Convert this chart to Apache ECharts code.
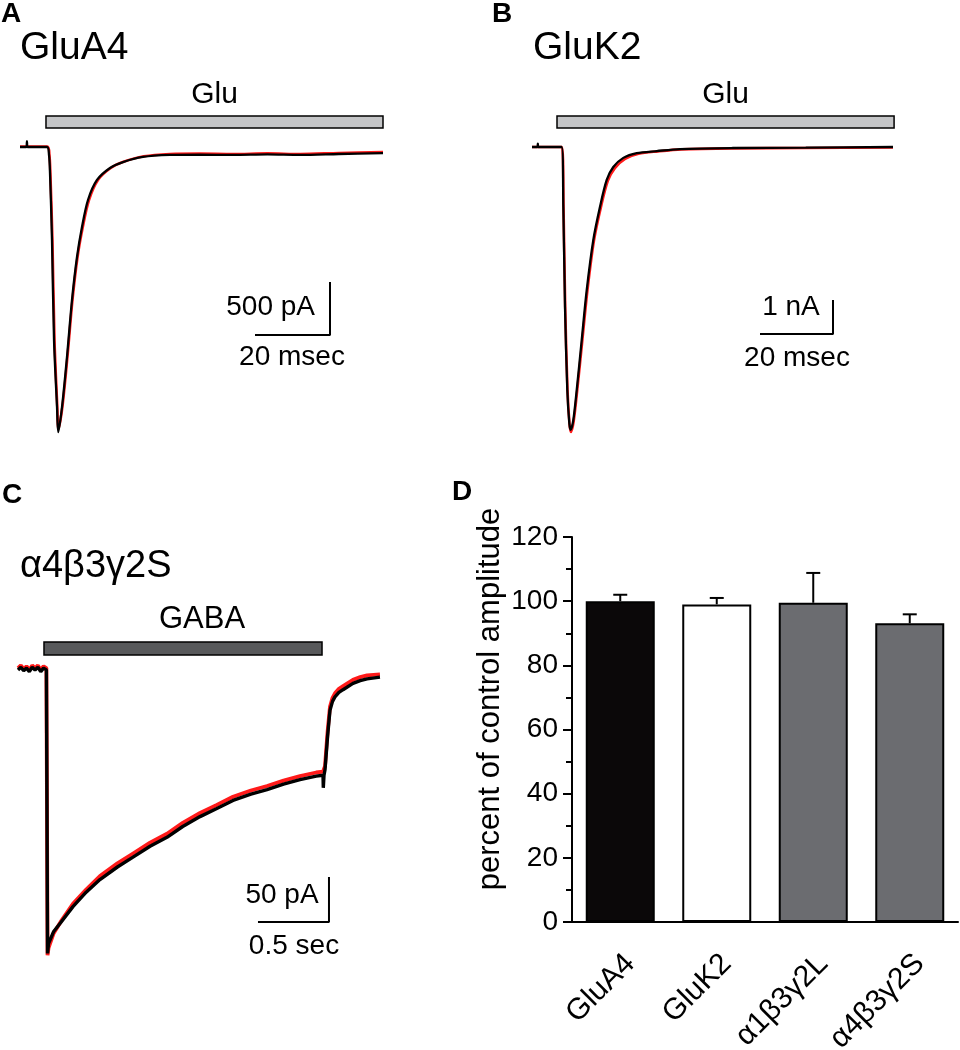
<!DOCTYPE html>
<html><head><meta charset="utf-8">
<script src="https://cdn.jsdelivr.net/npm/echarts@6/dist/echarts.min.js"></script>
<style>html,body{margin:0;padding:0;background:#fff}#c{width:960px;height:1050px}</style>
</head><body><div id="c"></div>
<script>
// ---------- DATA ----------
// Panel A (GluA4): time (ms), current (pA)
const traceA_black = [[0,0],[1.7,0],[1.85,55],[2.0,0],[7.2,0],[7.73,-75],[8.0,-245],[8.53,-877],[9.07,-1821],[9.87,-2453],[10.2,-2689],[11.2,-2453],[12.53,-1981],[13.87,-1443],[15.2,-1038],[16.53,-755],[18.13,-500],[20.53,-311],[24.0,-198],[27.47,-142],[32.8,-94],[40.0,-75],[48,-72],[56.8,-75],[66,-70],[74.7,-75],[85,-66],[96.8,-57]];
const traceA_red = [[0,5],[7.3,5],[7.85,-75],[8.1,-245],[8.65,-877],[9.2,-1821],[9.95,-2453],[10.25,-2660],[11.3,-2453],[12.65,-1981],[14.0,-1443],[15.35,-1038],[16.75,-755],[18.4,-500],[20.8,-311],[24.2,-198],[27.6,-140],[33,-88],[40,-66],[48,-62],[56.8,-66],[66,-60],[74.7,-66],[85,-56],[96.8,-48]];
const gluA_time = [6.93, 96.8];      // application period (ms)
const gluA_level = [179, 292];       // bar drawn above trace (pA)
const scaleA = [[62.67,-1774],[82.67,-1774],[82.67,-1274]]; // 20 ms, 500 pA

// Panel B (GluK2): time (ms), current (nA)
const traceB_black = [[0,0],[1.5,0],[1.6,0.1],[1.7,0],[8.14,0],[8.58,-1.76],[9.04,-4.71],[9.67,-7.15],[10.22,-8.12],[10.6,-8.32],[11.32,-8.03],[12.25,-7.15],[13.62,-5.68],[14.99,-4.21],[16.79,-2.74],[18.63,-1.76],[20.47,-0.97],[22.27,-0.59],[25.01,-0.32],[28.68,-0.18],[34.16,-0.12],[40.55,-0.06],[55.07,-0.03],[75,-0.02],[98.9,0]];
const traceB_red = [[0,0],[8.2,0],[8.64,-1.76],[9.1,-4.71],[9.73,-7.15],[10.28,-8.15],[10.66,-8.38],[11.4,-8.08],[12.4,-7.15],[13.8,-5.68],[15.2,-4.21],[17.0,-2.74],[18.9,-1.76],[20.8,-0.99],[22.7,-0.62],[25.5,-0.35],[29.2,-0.2],[34.5,-0.13],[41,-0.07],[55,-0.04],[75,-0.03],[98.9,-0.01]];
const gluB_time = [6.85, 99.2];
const gluB_level = [0.56, 0.91];
const scaleB = [[62.47,-5.5],[82.47,-5.5],[82.47,-4.5]]; // 20 ms, 1 nA

// Panel C (α4β3γ2S): time (ms), current (pA)
const traceC_black = [[0,-1],[20,2],[40,-2],[60,1],[80,-3],[100,2],[120,-1],[140,2],[160,-3],[180,1],[200,-1],[204,-150],[208,-316],[215,-305],[250,-292],[300,-282],[387,-264],[480,-248],[577,-234],[700,-220],[810,-209],[930,-197],[1049,-187],[1160,-175],[1282,-164],[1400,-155],[1514,-146],[1640,-139],[1754,-134],[1870,-128],[1986,-123],[2100,-119],[2148,-118],[2150,-132],[2155,-118],[2162,-112],[2180,-75],[2197,-46],[2215,-36],[2232,-31],[2260,-26],[2289,-23],[2359,-16],[2410,-13],[2458,-11],[2549,-9]];
const traceC_red = [[0,1],[20,4],[40,0],[60,3],[80,-1],[100,4],[120,1],[140,4],[160,-1],[180,3],[200,1],[204,-150],[208,-318],[215,-310],[250,-294],[300,-281],[387,-261],[480,-245],[577,-230],[700,-216],[810,-205],[930,-193],[1049,-183],[1160,-171],[1282,-160],[1400,-151],[1514,-142],[1640,-135],[1754,-130],[1870,-124],[1986,-119],[2100,-115],[2148,-114],[2155,-114],[2162,-108],[2180,-70],[2197,-42],[2215,-32],[2232,-27],[2260,-22],[2289,-19],[2359,-12],[2410,-9],[2458,-7],[2549,-6]];
const gabaC_time = [183, 2141];
const gabaC_level = [15.6, 30];
const scaleC = [[1690,-281],[2190,-281],[2190,-231]]; // 0.5 s, 50 pA

// Panel D
const categories = ['GluA4','GluK2','α1β3γ2L','α4β3γ2S'];
const meanPct = [100, 99, 99.5, 93.1];
const semPct = [2, 2, 9.3, 2.8];
const yTicksD = [0, 20, 40, 60, 80, 100, 120];

// ---------- STYLE ----------
const FONT = "'Liberation Sans', Arial, Helvetica, sans-serif";
const barFill = ['#0b0809','#ffffff','#6b6c70','#6b6c70'];

function traceSeries(idx, data, color, width, smooth){
  return {type:'line', xAxisIndex:idx, yAxisIndex:idx, data:data, symbol:'none', smooth:smooth,
    lineStyle:{color:color, width:width}, silent:true, animation:false, z:color==='#000000'?4:3};
}
function applBar(idx, time, level, name, fill, fs, dx){
  return {type:'line', xAxisIndex:idx, yAxisIndex:idx, data:[], symbol:'none', animation:false,
    markArea:{silent:true, itemStyle:{color:fill, borderColor:'#000', borderWidth:1.5},
      label:{show:true, position:'top', distance:6, offset:[dx,0], color:'#000', fontSize:fs, fontFamily:FONT},
      data:[[{name:name, coord:[time[0], level[1]]},{coord:[time[1], level[0]]}]]}};
}
function scaleSeries(idx, data){
  return {type:'line', xAxisIndex:idx, yAxisIndex:idx, data:data, symbol:'none',
    lineStyle:{color:'#000', width:2}, animation:false, silent:true};
}

const chart = echarts.init(document.getElementById('c'), null, {renderer:'canvas'});
const hiddenAxis = (min,max)=>({type:'value', min:min, max:max, show:false});

const option = {
  backgroundColor:'#fff',
  animation:false,
  grid:[
    {left:20, top:115.2, width:375, height:328.6, outerBoundsMode:'none'},
    {left:532, top:113, width:365, height:326.4, outerBoundsMode:'none'},
    {left:18, top:633, width:369.2, height:324, outerBoundsMode:'none'},
    {left:572, top:537, width:386, height:385, outerBoundsMode:'none'}
  ],
  xAxis:[
    Object.assign(hiddenAxis(0,100),{gridIndex:0}),
    Object.assign(hiddenAxis(0,100),{gridIndex:1}),
    Object.assign(hiddenAxis(0,2600),{gridIndex:2}),
    {type:'category', gridIndex:3, data:categories,
      axisLine:{lineStyle:{color:'#000', width:2}},
      axisTick:{alignWithLabel:true, length:8, lineStyle:{color:'#000', width:2}},
      axisLabel:{show:false}}
  ],
  yAxis:[
    Object.assign(hiddenAxis(-2800,300),{gridIndex:0}),
    Object.assign(hiddenAxis(-8.6,1),{gridIndex:1}),
    Object.assign(hiddenAxis(-320,40),{gridIndex:2}),
    {type:'value', gridIndex:3, min:yTicksD[0], max:yTicksD[yTicksD.length-1], interval:20,
      axisLine:{show:true, lineStyle:{color:'#000', width:2}},
      axisTick:{show:true, length:9, lineStyle:{color:'#000', width:2}},
      minorTick:{show:true, splitNumber:2, length:6, lineStyle:{color:'#000', width:2}},
      splitLine:{show:false},
      axisLabel:{color:'#000', fontSize:28, fontFamily:FONT, margin:14}}
  ],
  series:[
    applBar(0, gluA_time, gluA_level, 'Glu', '#c4c5c7', 30, 0),
    traceSeries(0, traceA_red, '#ff1a1a', 2.6, 0.3),
    traceSeries(0, traceA_black, '#000000', 2.3, 0.3),
    scaleSeries(0, scaleA),

    applBar(1, gluB_time, gluB_level, 'Glu', '#c4c5c7', 30, 0),
    traceSeries(1, traceB_red, '#ff1a1a', 2.6, 0.3),
    traceSeries(1, traceB_black, '#000000', 2.3, 0.3),
    scaleSeries(1, scaleB),

    applBar(2, gabaC_time, gabaC_level, 'GABA', '#58595b', 31, 19),
    traceSeries(2, traceC_red, '#ff1a1a', 3.8, false),
    traceSeries(2, traceC_black, '#000000', 3.4, false),
    scaleSeries(2, scaleC),

    {type:'bar', xAxisIndex:3, yAxisIndex:3, barWidth:69, animation:false,
      data: meanPct.map((v,i)=>({value:v, itemStyle:{color:barFill[i], borderColor:'#000', borderWidth:2}}))},
    {type:'custom', xAxisIndex:3, yAxisIndex:3, animation:false, z:5,
      data: meanPct.map((v,i)=>[i, v, v+semPct[i]]),
      renderItem:function(params, api){
        const p0 = api.coord([api.value(0), api.value(1)]);
        const p1 = api.coord([api.value(0), api.value(2)]);
        return {type:'group', children:[
          {type:'line', shape:{x1:p0[0], y1:p0[1], x2:p1[0], y2:p1[1]}, style:{stroke:'#000', lineWidth:2}},
          {type:'line', shape:{x1:p1[0]-7, y1:p1[1], x2:p1[0]+7, y2:p1[1]}, style:{stroke:'#000', lineWidth:2}}
        ]};
      }},
    {type:'custom', xAxisIndex:3, yAxisIndex:3, animation:false, clip:false,
      data: categories.map((c,i)=>[i, 0]),
      renderItem:function(params, api){
        const i = api.value(0);
        const p = api.coord([i, 0]);
        return {type:'text', x:p[0]+10, y:p[1]+37, rotation:Math.PI/4,
          style:{text:categories[i], align:'right', verticalAlign:'middle', fill:'#000', font:'30px '+FONT}};
      }}
  ],
  graphic:[
    {type:'text', x:1, y:14, style:{text:'A', font:'bold 28px '+FONT, fill:'#000', verticalAlign:'middle'}},
    {type:'text', x:20, y:48, style:{text:'GluA4', font:'39px '+FONT, fill:'#000', verticalAlign:'middle'}},
    {type:'text', x:315, y:307, style:{text:'500 pA', font:'28px '+FONT, fill:'#000', align:'right', verticalAlign:'middle'}},
    {type:'text', x:292, y:357, style:{text:'20 msec', font:'28px '+FONT, fill:'#000', align:'center', verticalAlign:'middle'}},

    {type:'text', x:492, y:14, style:{text:'B', font:'bold 28px '+FONT, fill:'#000', verticalAlign:'middle'}},
    {type:'text', x:533, y:48, style:{text:'GluK2', font:'39px '+FONT, fill:'#000', verticalAlign:'middle'}},
    {type:'text', x:791, y:307, style:{text:'1 nA', font:'28px '+FONT, fill:'#000', align:'center', verticalAlign:'middle'}},
    {type:'text', x:797, y:358, style:{text:'20 msec', font:'28px '+FONT, fill:'#000', align:'center', verticalAlign:'middle'}},

    {type:'text', x:2, y:495, style:{text:'C', font:'bold 28px '+FONT, fill:'#000', verticalAlign:'middle'}},
    {type:'text', x:20, y:567, style:{text:'α4β3γ2S', font:'38px '+FONT, fill:'#000', verticalAlign:'middle'}},
    {type:'text', x:282, y:895, style:{text:'50 pA', font:'28px '+FONT, fill:'#000', align:'center', verticalAlign:'middle'}},
    {type:'text', x:294, y:946, style:{text:'0.5 sec', font:'28px '+FONT, fill:'#000', align:'center', verticalAlign:'middle'}},

    {type:'text', x:452, y:492, style:{text:'D', font:'bold 28px '+FONT, fill:'#000', verticalAlign:'middle'}},
    {type:'text', x:490, y:699, rotation:Math.PI/2, style:{text:'percent of control amplitude', font:'31px '+FONT, fill:'#000', align:'center', verticalAlign:'middle'}}
  ]
};
chart.setOption(option);
</script></body></html>
